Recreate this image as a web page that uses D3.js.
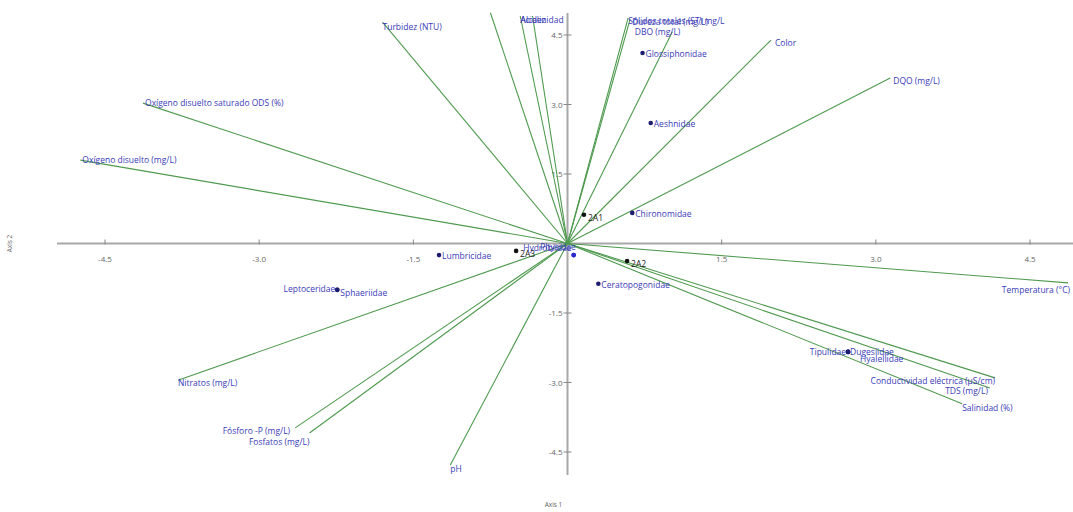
<!DOCTYPE html>
<html><head><meta charset="utf-8">
<script src="https://cdn.jsdelivr.net/npm/d3@7"></script>
<style>body{margin:0;background:#fff}svg{display:block}text{font-family:"Open Sans",sans-serif}</style>
</head><body><svg id="c" width="1073" height="512"></svg>
<script>
// Environmental vectors (biplot scores)
const vectorNames = ["Turbidez (NTU)","","Acidez","Alcalinidad","Sólidos totales (ST) mg/L","Dureza total (mg/L)","DBO (mg/L)","Color","DQO (mg/L)",
 "Oxígeno disuelto saturado ODS (%)","Oxígeno disuelto (mg/L)","Temperatura (°C)","Conductividad eléctrica (µS/cm)","TDS (mg/L)","Salinidad (%)",
 "Nitratos (mg/L)","Fósforo -P (mg/L)","Fosfatos (mg/L)","pH"];
const vectorX = [-1.80,-0.75,-0.46,-0.34,0.59,0.61,1.02,1.98,3.14,-4.13,-4.74,4.87,4.16,4.11,3.84,-3.79,-2.65,-2.51,-1.14];
const vectorY = [4.78,4.98,4.91,4.91,4.87,4.85,4.57,4.39,3.57,3.03,1.80,-0.85,-2.90,-3.12,-3.46,-2.95,-3.98,-4.09,-4.78];
// Taxa scores
const taxaNames = ["Glossiphonidae","Aeshnidae","Chironomidae","Lumbricidae","Leptoceridae","Sphaeriidae","Ceratopogonidae","Tipulidae","Dugesiidae","Hyalellidae","Hydrobiidae","Physidae"];
const taxaX = [0.73,0.81,0.63,-1.25,-2.24,-2.24,0.30,2.73,2.73,2.73,0.06,0.06];
const taxaY = [4.11,2.60,0.66,-0.25,-1.00,-1.00,-0.87,-2.34,-2.34,-2.34,-0.25,-0.25];
// Site scores
const siteNames = ["2A1","2A2","2A3"];
const siteX = [0.16,0.58,-0.50];
const siteY = [0.62,-0.38,-0.16];
const tickValues = [-4.5,-3.0,-1.5,1.5,3.0,4.5];
const tickLabels = ["-4.5","-3.0","-1.5","1.5","3.0","4.5"];

// label layout (anchor, dx, dy)
const vecLayout = {
 "Turbidez (NTU)":["start",0,8],"Acidez":["start",0,7],"Alcalinidad":["start",-12,7],
 "Sólidos totales (ST) mg/L":["start",0,6],"Dureza total (mg/L)":["start",2,6],"DBO (mg/L)":["end",8,3],
 "Color":["start",4,6],"DQO (mg/L)":["start",3,6],"Oxígeno disuelto saturado ODS (%)":["start",2,3],
 "Oxígeno disuelto (mg/L)":["start",2,3],"Temperatura (°C)":["end",2,10],"Conductividad eléctrica (µS/cm)":["end",0,6],
 "TDS (mg/L)":["end",-2,6],"Salinidad (%)":["start",0,7],"Nitratos (mg/L)":["start",0,6],
 "Fósforo -P (mg/L)":["end",-5,6],"Fosfatos (mg/L)":["end",0,12],"pH":["start",0,7]
};
const taxaLayout = {
 "Leptoceridae":["end",-2,2],"Sphaeriidae":["start",3,6],"Tipulidae":["end",-2,3],"Dugesiidae":["start",2,3],
 "Hyalellidae":["start",12,10],"Hydrobiidae":["end",-2,-4],"Physidae":["end",2,-5]
};

const svg = d3.select("#c");
const x = d3.scaleLinear().domain([-4.5,4.5]).range([105,1030]);
const y = d3.scaleLinear().domain([-4.5,4.5]).range([452,35]);
const axisCol = "#a8a8a8";

// axes lines
svg.append("line").attr("x1",57).attr("x2",1073).attr("y1",y(0)).attr("y2",y(0)).attr("stroke",axisCol).attr("stroke-width",2);
svg.append("line").attr("x1",x(0)).attr("x2",x(0)).attr("y1",13).attr("y2",475).attr("stroke",axisCol).attr("stroke-width",2);
// ticks
tickValues.forEach((t,i)=>{
  svg.append("line").attr("x1",x(t)).attr("x2",x(t)).attr("y1",y(0)-4).attr("y2",y(0)+1).attr("stroke","#888").attr("stroke-width",1);
  svg.append("text").attr("x",x(t)).attr("y",y(0)+18).attr("text-anchor","middle").attr("font-size",8).attr("fill","#666").text(tickLabels[i]);
  svg.append("line").attr("x1",x(0)-4).attr("x2",x(0)+4).attr("y1",y(t)).attr("y2",y(t)).attr("stroke","#888").attr("stroke-width",1);
  svg.append("text").attr("x",x(0)-5).attr("y",y(t)+3).attr("text-anchor","end").attr("font-size",8).attr("fill","#666").text(tickLabels[i]);
});
svg.append("text").attr("x",x(0)-14).attr("y",507).attr("font-size",6.5).attr("fill","#666").attr("text-anchor","middle").text("Axis 1");
svg.append("text").attr("transform",`translate(12,${y(0)}) rotate(-90)`).attr("font-size",6.5).attr("fill","#666").attr("text-anchor","middle").text("Axis 2");

// vectors
const vecs = vectorNames.map((n,i)=>({n,x:vectorX[i],y:vectorY[i]}));
svg.append("g").selectAll("line").data(vecs).join("line")
  .attr("x1",x(0)).attr("y1",y(0)).attr("x2",d=>x(d.x)).attr("y2",d=>y(d.y))
  .attr("stroke","#4f9a4f").attr("stroke-width",1.1);
svg.append("g").selectAll("text").data(vecs.filter(d=>d.n)).join("text")
  .attr("x",d=>x(d.x)+(vecLayout[d.n]||["start",0,0])[1]).attr("y",d=>y(d.y)+(vecLayout[d.n]||["start",0,0])[2])
  .attr("text-anchor",d=>(vecLayout[d.n]||["start"])[0]).attr("font-size",8.5).attr("fill","#3b3bb8").text(d=>d.n);

// taxa
const taxa = taxaNames.map((n,i)=>({n,x:taxaX[i],y:taxaY[i]}));
svg.append("g").selectAll("circle").data(taxa).join("circle")
  .attr("cx",d=>x(d.x)).attr("cy",d=>y(d.y)).attr("r",2.3).attr("fill",d=>d.n==="Hydrobiidae"||d.n==="Physidae"?"#2a2ad0":"#1c1c70");
svg.append("g").selectAll("text").data(taxa).join("text")
  .attr("x",d=>x(d.x)+(taxaLayout[d.n]||["start",3,4])[1]).attr("y",d=>y(d.y)+(taxaLayout[d.n]||["start",3,4])[2])
  .attr("text-anchor",d=>(taxaLayout[d.n]||["start"])[0]).attr("font-size",8.5).attr("fill","#3b3bb8").text(d=>d.n);

// sites
const sites = siteNames.map((n,i)=>({n,x:siteX[i],y:siteY[i]}));
svg.append("g").selectAll("circle").data(sites).join("circle")
  .attr("cx",d=>x(d.x)).attr("cy",d=>y(d.y)).attr("r",2.3).attr("fill","#111");
svg.append("g").selectAll("text").data(sites).join("text")
  .attr("x",d=>x(d.x)+4).attr("y",d=>y(d.y)+6).attr("font-size",8.5).attr("fill","#222").text(d=>d.n);
</script></body></html>
